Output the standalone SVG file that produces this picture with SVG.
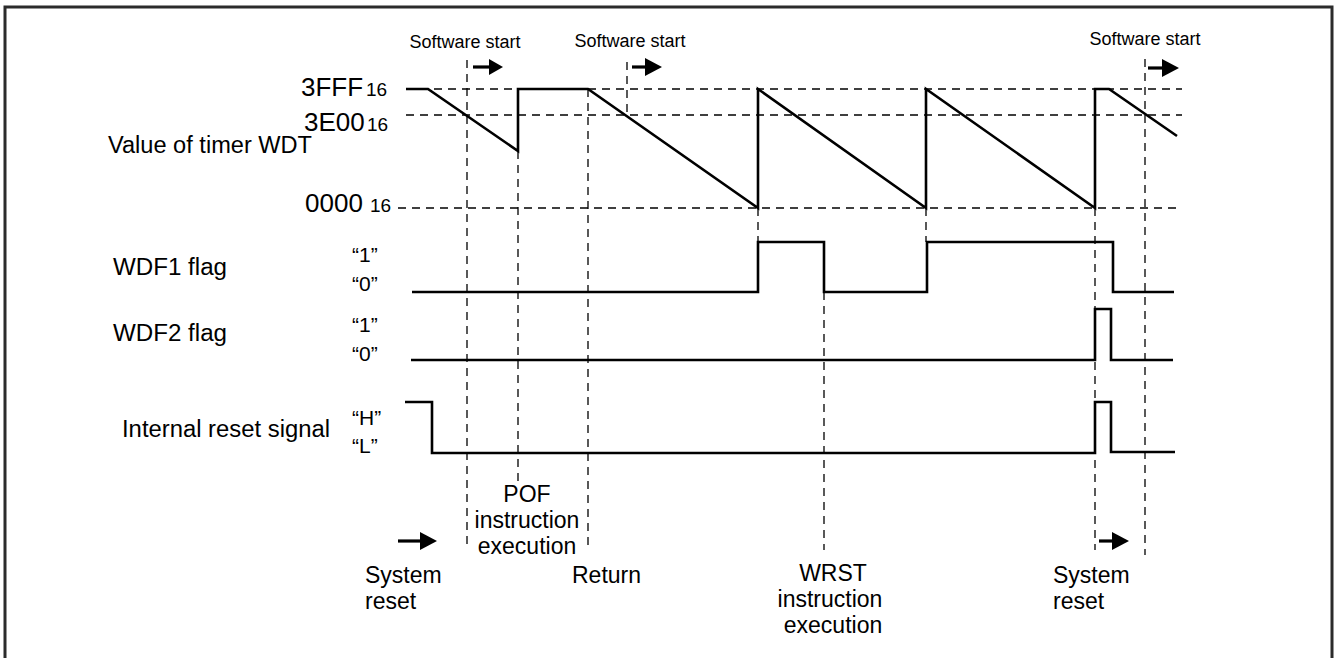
<svg xmlns="http://www.w3.org/2000/svg" width="1335" height="658" viewBox="0 0 1335 658">
<style>
text{font-family:"Liberation Sans",Arial,sans-serif;fill:#000}
.lb{font-size:23px}
.ss{font-size:18px}
.big{font-size:26px}
.sub{font-size:19px}
.q{font-size:21px}
.mid{text-anchor:middle}
.wave{fill:none;stroke:#000;stroke-width:2.6;stroke-linejoin:miter}
.dash{fill:none;stroke:#000;stroke-width:1.3;stroke-dasharray:8 6}
.shaft{stroke:#000;stroke-width:3.2}
.head{fill:#000}
</style>
<rect x="5" y="7" width="1327" height="660" fill="#fff" stroke="#2b2b2b" stroke-width="3"/>

<g id="guides">
<path class="dash" d="M406,89H1182M406,115H1182M398,208H1182"/>
<path class="dash" d="M467,60V550M518,151V482M588,89V547M627,62V115M758,208V242M824,292V550M926,208V242M1095,208V550M1145,59V555"/>
</g>

<g id="connectors">
<path id="wdt-wave" class="wave" d="M406,89L428,89L518,151L518,89L588,89L758,208L758,89L926,208L926,89L1095,208L1095,89L1109,89L1177,136"/>
<path id="wdf1-wave" class="wave" d="M412,292L758,292L758,242L824,242L824,292L927,292L927,242L1113,242L1113,292L1174,292"/>
<path id="wdf2-wave" class="wave" d="M411,360L1095,360L1095,309L1111,309L1111,360L1173,360"/>
<path id="reset-wave" class="wave" d="M405,402L432,402L432,453L1095,453L1095,402L1111,402L1111,452L1175,452"/>
</g>

<g id="arrows">
<line class="shaft" x1="473" y1="67" x2="492" y2="67"/><polygon class="head" points="489,59 503,67 489,75"/>
<line class="shaft" x1="632" y1="67" x2="647" y2="67"/><polygon class="head" points="645,58 662,67 645,76"/>
<line class="shaft" x1="1148" y1="68" x2="1164" y2="68"/><polygon class="head" points="1162,59 1179,68 1162,77"/>
<line class="shaft" x1="398" y1="541" x2="422" y2="541"/><polygon class="head" points="420,532 437,541 420,550"/>
<line class="shaft" x1="1099" y1="541" x2="1114" y2="541"/><polygon class="head" points="1112,532 1129,541 1112,550"/>
</g>

<g id="timer-labels">
<text class="ss mid" x="465" y="48">Software start</text>
<text class="ss mid" x="630" y="47">Software start</text>
<text class="ss mid" x="1145" y="45">Software start</text>
<text x="301" y="96"><tspan class="big">3FFF</tspan><tspan class="sub" x="366">16</tspan></text>
<text x="304" y="131"><tspan class="big">3E00</tspan><tspan class="sub" x="367">16</tspan></text>
<text x="305" y="212"><tspan class="big">0000</tspan><tspan class="sub" x="370">16</tspan></text>
<text class="lb" x="108" y="153" textLength="204" lengthAdjust="spacingAndGlyphs">Value of timer WDT</text>
</g>

<g id="wdf1">
<text class="lb" x="113" y="275" textLength="114" lengthAdjust="spacingAndGlyphs">WDF1 flag</text>
<text class="q" x="352" y="262">“1”</text>
<text class="q" x="352" y="291">“0”</text>
</g>

<g id="wdf2">
<text class="lb" x="113" y="341" textLength="114" lengthAdjust="spacingAndGlyphs">WDF2 flag</text>
<text class="q" x="352" y="332">“1”</text>
<text class="q" x="352" y="361">“0”</text>
</g>

<g id="reset">
<text class="lb" x="122" y="437" textLength="208" lengthAdjust="spacingAndGlyphs">Internal reset signal</text>
<text class="q" x="352" y="425">“H”</text>
<text class="q" x="352" y="453">“L”</text>
</g>

<g id="events">
<text class="lb" x="365" y="583">System</text>
<text class="lb" x="365" y="609">reset</text>
<text class="lb mid" x="527" y="502">POF</text>
<text class="lb mid" x="527" y="528">instruction</text>
<text class="lb mid" x="527" y="554">execution</text>
<text class="lb" x="572" y="583">Return</text>
<text class="lb mid" x="833" y="581">WRST</text>
<text class="lb mid" x="830" y="607">instruction</text>
<text class="lb mid" x="833" y="633">execution</text>
<text class="lb" x="1053" y="583">System</text>
<text class="lb" x="1053" y="609">reset</text>
</g>
</svg>
